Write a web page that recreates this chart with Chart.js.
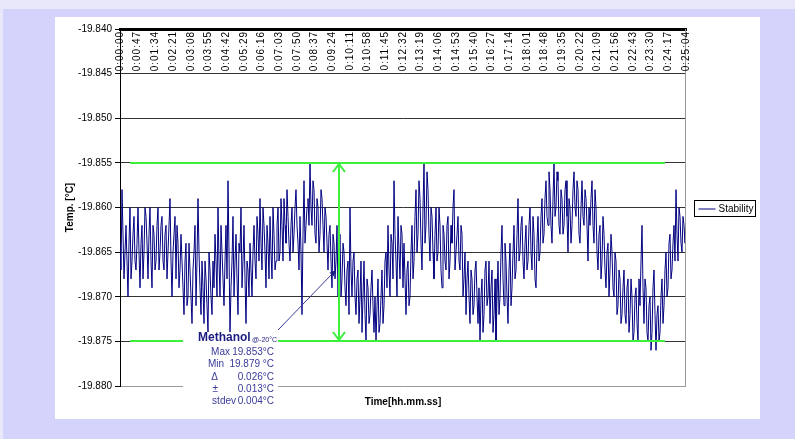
<!DOCTYPE html>
<html>
<head>
<meta charset="utf-8">
<script src="https://cdn.jsdelivr.net/npm/chart.js@4.4.1/dist/chart.umd.min.js"></script>
<style>
body{margin:0;background:#e8e8fa;width:795px;height:439px;overflow:hidden;position:relative}
#bg{position:absolute;left:3px;top:9px;right:0;bottom:0;background:#d3d3fb}
#box{position:absolute;left:55px;top:17px;width:705px;height:402px;background:#fff}
canvas{display:block}
</style>
</head>
<body>
<div id="bg"></div>
<div id="box"><canvas id="Stab" width="705" height="402" style="width:705px;height:402px"></canvas></div>
<script>
var timeLabels = ["0:00:00","0:00:47","0:01:34","0:02:21","0:03:08","0:03:55","0:04:42","0:05:29",
  "0:06:16","0:07:03","0:07:50","0:08:37","0:09:24","0:10:11","0:10:58","0:11:45","0:12:32",
  "0:13:19","0:14:06","0:14:53","0:15:40","0:16:27","0:17:14","0:18:01","0:18:48","0:19:35",
  "0:20:22","0:21:09","0:21:56","0:22:43","0:23:30","0:24:17","0:25:04"];

// temperature readings [°C]
var stability = [
  -19.864,-19.867,-19.858,-19.863,-19.868,-19.865,-19.862,-19.866,-19.870,-19.864,-19.860,-19.868,-19.866,-19.863,-19.861,-19.866,
  -19.867,-19.864,-19.860,-19.865,-19.869,-19.864,-19.862,-19.868,-19.865,-19.860,-19.861,-19.864,-19.868,-19.863,-19.860,-19.866,
  -19.869,-19.862,-19.863,-19.867,-19.866,-19.862,-19.860,-19.867,-19.865,-19.862,-19.861,-19.866,-19.867,-19.863,-19.862,-19.868,
  -19.865,-19.862,-19.859,-19.866,-19.870,-19.865,-19.863,-19.861,-19.868,-19.862,-19.864,-19.869,-19.867,-19.863,
  -19.866,-19.869,-19.872,-19.866,-19.864,-19.871,-19.870,-19.864,-19.867,-19.870,-19.873,-19.867,-19.865,-19.862,-19.871,-19.866,
  -19.859,-19.865,-19.869,-19.872,-19.866,-19.869,-19.873,-19.866,-19.868,-19.871,-19.874,-19.865,-19.867,-19.870,-19.872,-19.866,
  -19.869,-19.863,
  -19.866,-19.870,-19.860,-19.866,-19.870,-19.862,-19.865,-19.868,-19.871,-19.866,-19.862,-19.868,-19.857,-19.865,-19.874,-19.869,
  -19.866,-19.861,-19.870,-19.866,-19.863,-19.868,-19.872,-19.864,-19.865,-19.860,-19.869,-19.866,-19.862,-19.868,-19.873,-19.866,
  -19.867,-19.870,-19.864,-19.867,-19.870,-19.865,-19.862,-19.866,-19.868,-19.861,-19.863,-19.866,-19.859,-19.864,-19.867,-19.860,
  -19.862,-19.865,-19.869,-19.862,-19.864,-19.868,-19.861,-19.865,-19.868,-19.860,-19.863,-19.867,-19.866,-19.862,-19.860,-19.866,
  -19.865,-19.859,-19.862,-19.866,-19.859,-19.862,-19.864,-19.858,-19.861,-19.864,-19.866,-19.862,-19.860,-19.865,-19.863,-19.860,
  -19.858,-19.862,-19.864,-19.867,-19.861,-19.865,-19.872,-19.863,-19.857,-19.864,-19.862,-19.860,-19.859,-19.862,
  -19.855,-19.860,-19.862,-19.857,-19.858,-19.863,-19.864,-19.859,-19.860,-19.865,-19.863,-19.858,-19.859,-19.862,-19.865,-19.860,
  -19.861,-19.864,-19.867,-19.863,-19.862,-19.866,-19.869,-19.863,-19.864,-19.868,-19.866,-19.862,-19.870,-19.866,-19.863,-19.870,
  -19.868,-19.864,-19.865,-19.869,-19.871,-19.867,-19.866,-19.872,-19.860,-19.867,-19.870,-19.866,-19.865,-19.870,-19.872,-19.868,
  -19.867,-19.873,-19.870,-19.866,-19.874,-19.870,-19.866,-19.872,-19.875,-19.868,-19.869,-19.873,-19.872,-19.869,-19.867,-19.871,
  -19.874,-19.870,-19.875,-19.871,-19.868,-19.874,-19.873,-19.870,-19.867,-19.873,-19.871,-19.866,-19.865,-19.869,-19.862,-19.867,
  -19.870,-19.863,-19.864,-19.868,-19.857,-19.863,-19.866,-19.870,-19.861,-19.865,-19.868,-19.862,-19.863,-19.869,
  -19.864,-19.868,-19.872,-19.867,-19.866,-19.871,-19.870,-19.865,-19.862,-19.868,-19.866,-19.861,-19.858,-19.865,-19.863,-19.857,
  -19.859,-19.864,-19.867,-19.860,-19.855,-19.864,-19.862,-19.856,-19.858,-19.863,-19.866,-19.860,-19.861,-19.865,-19.868,-19.863,
  -19.860,-19.866,-19.865,-19.860,-19.862,-19.867,-19.869,-19.862,-19.863,-19.866,-19.867,-19.862,-19.861,-19.868,-19.866,-19.862,
  -19.864,-19.860,-19.858,-19.867,-19.865,-19.863,-19.861,-19.866,-19.867,-19.862,-19.863,-19.870,-19.868,-19.865,-19.872,-19.868,
  -19.866,-19.870,-19.873,-19.867,-19.868,-19.872,-19.871,-19.867,-19.866,-19.870,-19.873,-19.869,-19.875,-19.870,-19.868,-19.874,
  -19.872,-19.867,-19.866,-19.871,-19.870,-19.866,-19.873,-19.869,-19.867,-19.874,-19.872,-19.868,
  -19.875,-19.870,-19.866,-19.872,-19.870,-19.865,-19.862,-19.868,-19.871,-19.864,-19.866,-19.870,-19.873,-19.867,-19.864,-19.871,
  -19.869,-19.865,-19.862,-19.868,-19.867,-19.863,-19.859,-19.866,-19.865,-19.862,-19.861,-19.866,-19.868,-19.864,-19.862,-19.867,
  -19.866,-19.862,-19.860,-19.865,-19.867,-19.861,-19.863,-19.868,-19.869,-19.864,-19.861,-19.866,-19.865,-19.861,-19.859,-19.864,
  -19.863,-19.859,-19.857,-19.861,-19.862,-19.856,-19.858,-19.862,-19.864,-19.859,-19.855,-19.861,-19.860,-19.856,-19.857,-19.862,
  -19.863,-19.858,-19.859,-19.863,-19.862,-19.858,-19.857,-19.861,-19.865,-19.859,-19.860,-19.864,-19.862,-19.858,-19.856,-19.860,
  -19.861,-19.857,-19.858,-19.863,-19.864,-19.860,-19.857,-19.861,-19.862,-19.858,-19.859,-19.862,-19.866,-19.860,
  -19.862,-19.859,-19.857,-19.862,-19.864,-19.858,-19.860,-19.865,-19.867,-19.863,-19.862,-19.868,-19.866,-19.861,-19.863,-19.867,
  -19.869,-19.865,-19.864,-19.870,-19.867,-19.863,-19.865,-19.869,-19.870,-19.865,-19.866,-19.872,-19.871,-19.867,-19.868,-19.873,
  -19.872,-19.869,-19.867,-19.872,-19.873,-19.869,-19.868,-19.874,-19.872,-19.868,-19.870,-19.875,-19.874,-19.870,-19.869,-19.873,
  -19.875,-19.868,-19.871,-19.866,-19.862,-19.869,-19.873,-19.868,-19.869,-19.874,-19.875,-19.871,-19.870,-19.876,-19.874,-19.869,
  -19.867,-19.872,-19.876,-19.872,-19.871,-19.875,-19.874,-19.870,-19.868,-19.873,-19.871,-19.867,-19.865,-19.870,-19.869,-19.864,
  -19.863,-19.868,-19.867,-19.864,-19.862,-19.866,-19.858,-19.863,-19.866,-19.860,-19.861,-19.864,-19.865,-19.861,-19.862,-19.864,
  -19.860
];

var yTicks = { min: -19.880, max: -19.840, step: 0.005 };
var bandTop = -19.855, bandBottom = -19.875;
var stats = [["Max", "19.853°C"], ["Min", "19.879 °C"], ["\u0394", "0.026°C"], ["\u00b1", "0.013°C"], ["stdev", "0.004°C"]];

var FONT = '"Liberation Sans", Arial, sans-serif';
Chart.defaults.font.family = FONT;
var green = '#3cf03c';

var overlay = {
  id: 'overlay',
  afterDatasetsDraw: function(chart) {
    var c = chart.ctx, a = chart.chartArea, xs = chart.scales.x, ys = chart.scales.y;
    c.save();
    // right border of plot
    c.strokeStyle = '#999'; c.lineWidth = 1;
    c.beginPath(); c.moveTo(a.right - 0.5, a.top); c.lineTo(a.right - 0.5, a.bottom); c.stroke();

    // time labels hanging under the top axis
    c.fillStyle = '#000'; c.font = '10px ' + FONT; c.letterSpacing = '1px';
    c.textAlign = 'right'; c.textBaseline = 'middle';
    timeLabels.forEach(function(t, i) {
      c.save(); c.translate(xs.getPixelForValue(i), a.top + 2); c.rotate(-Math.PI / 2); c.fillText(t, 0, 0); c.restore();
    });
    c.letterSpacing = '0px';

    // stability band
    var gx1 = xs.getPixelForValue(0.57), gx2 = xs.getPixelForValue(30.8);
    var gy1 = Math.round(ys.getPixelForValue(bandTop)), gy2 = Math.round(ys.getPixelForValue(bandBottom));
    c.strokeStyle = green; c.lineWidth = 2;
    c.beginPath(); c.moveTo(gx1, gy1); c.lineTo(gx2, gy1); c.moveTo(gx1, gy2); c.lineTo(gx2, gy2); c.stroke();
    var ax = Math.round(xs.getPixelForValue(12.38));
    c.beginPath();
    c.moveTo(ax, gy1 + 1); c.lineTo(ax, gy2 - 1);
    c.moveTo(ax - 6, gy1 + 9); c.lineTo(ax, gy1 + 1); c.lineTo(ax + 6, gy1 + 9);
    c.moveTo(ax - 6, gy2 - 9); c.lineTo(ax, gy2 - 1); c.lineTo(ax + 6, gy2 - 9);
    c.stroke();

    // annotation box
    var bx = a.left + 63, by = a.bottom - 54;
    c.fillStyle = '#fff'; c.fillRect(bx, by, 95, 78);
    var px = xs.getPixelForValue(12.21), py = ys.getPixelForValue(-19.867);
    c.strokeStyle = '#3a3a9a'; c.lineWidth = 1;
    c.beginPath(); c.moveTo(bx + 95, by - 2); c.lineTo(px, py); c.stroke();
    var ang = Math.atan2(py - (by - 2), px - (bx + 95));
    c.fillStyle = '#1c1c80';
    c.beginPath(); c.moveTo(px, py);
    c.lineTo(px - 7 * Math.cos(ang - 0.4), py - 7 * Math.sin(ang - 0.4));
    c.lineTo(px - 7 * Math.cos(ang + 0.4), py - 7 * Math.sin(ang + 0.4));
    c.closePath(); c.fill();

    c.textAlign = 'left'; c.textBaseline = 'middle';
    c.fillStyle = '#1c1c80'; c.font = 'bold 12px ' + FONT;
    c.fillText('Methanol', bx + 15, by + 6);
    c.font = '7px ' + FONT; c.fillText('@-20°C', bx + 69, by + 8);
    c.fillStyle = '#3a3a9a'; c.font = '10px ' + FONT;
    var lx = [47, 41, 35, 35, 53], ly = [20, 32, 45, 57, 69];
    stats.forEach(function(s, i) {
      c.textAlign = 'right'; c.fillText(s[0], bx + lx[i], by + ly[i]);
      c.fillText(s[1], bx + 91, by + ly[i]);
    });

    // x title
    c.fillStyle = '#000'; c.font = 'bold 10px ' + FONT; c.textAlign = 'center';
    c.fillText('Time[hh.mm.ss]', (a.left + a.right) / 2, a.bottom + 16);

    // legend
    var ds = chart.data.datasets[0];
    var lgx = a.right + 8.5, lgy = Math.round((a.top + a.bottom) / 2) - 7.5;
    c.strokeStyle = '#000'; c.lineWidth = 1; c.strokeRect(lgx, lgy, 61, 16);
    c.strokeStyle = ds.borderColor; c.beginPath(); c.moveTo(lgx + 4, lgy + 8.5); c.lineTo(lgx + 21, lgy + 8.5); c.stroke();
    c.fillStyle = '#000'; c.font = '10px ' + FONT; c.textAlign = 'left';
    c.fillText(ds.label, lgx + 24, lgy + 8.5);
    c.restore();
  }
};

var ctx = document.getElementById("Stab");
var myChart = new Chart(ctx, {
  type: 'line',
  data: {
    datasets: [{
      label: 'Stability',
      data: stability.map(function(v, i) { return { x: i * (timeLabels.length - 1) / (stability.length - 1), y: v }; }),
      borderColor: '#000080',
      borderWidth: 1,
      pointRadius: 0,
      tension: 0
    }]
  },
  options: {
    responsive: false,
    animation: false,
    layout: { padding: { left: 0, top: 12, right: 74, bottom: 33 } },
    plugins: { legend: { display: false }, tooltip: { enabled: false } },
    scales: {
      x: {
        type: 'linear', position: 'top', min: 0, max: timeLabels.length - 1,
        ticks: { display: false, stepSize: 1 },
        grid: { display: false, drawTicks: false },
        border: { color: '#000', width: 3 },
        afterFit: function(s) { s.height = 0; }
      },
      y: {
        min: yTicks.min, max: yTicks.max,
        ticks: { stepSize: yTicks.step, color: '#000', font: { size: 10 }, padding: 3,
          callback: function(v) { return v.toFixed(3); } },
        grid: { color: function(g) { return g.index === 0 ? '#999' : '#333'; }, tickLength: 5, tickColor: '#000' },
        border: { color: '#000' },
        title: { display: true, text: 'Temp. [°C]', color: '#000', font: { size: 10, weight: 'bold' }, padding: { top: 9, bottom: 0 } },
        afterFit: function(s) { s.width = 65; }
      }
    }
  },
  plugins: [overlay]
});
</script>
</body>
</html>
